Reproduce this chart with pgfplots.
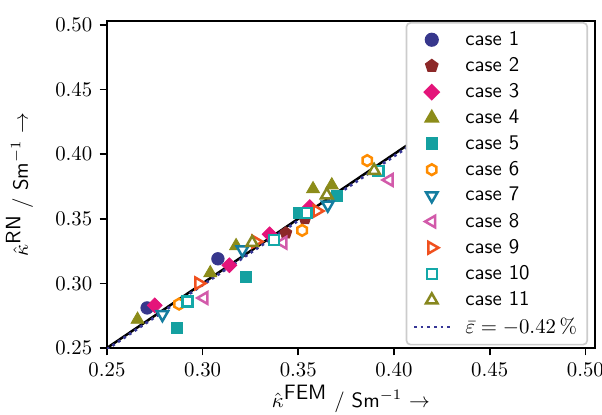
\documentclass[border=0pt]{standalone}
\usepackage{pgfplots}
\pgfplotsset{compat=1.18}
\usetikzlibrary{plotmarks}
\pgfdeclareplotmark{hexa}{%
 \pgfpathmoveto{\pgfqpointpolar{90}{\pgfplotmarksize}}%
 \pgfpathlineto{\pgfqpointpolar{150}{\pgfplotmarksize}}%
 \pgfpathlineto{\pgfqpointpolar{210}{\pgfplotmarksize}}%
 \pgfpathlineto{\pgfqpointpolar{270}{\pgfplotmarksize}}%
 \pgfpathlineto{\pgfqpointpolar{330}{\pgfplotmarksize}}%
 \pgfpathlineto{\pgfqpointpolar{30}{\pgfplotmarksize}}%
 \pgfpathclose
 \pgfusepathqfillstroke}
\definecolor{c1}{RGB}{55,55,140}
\definecolor{c2}{RGB}{140,40,40}
\definecolor{c3}{RGB}{228,20,122}
\definecolor{c4}{RGB}{140,140,25}
\definecolor{c5}{RGB}{20,160,160}
\definecolor{c6}{RGB}{255,140,0}
\definecolor{c7}{RGB}{20,125,160}
\definecolor{c8}{RGB}{210,90,170}
\definecolor{c9}{RGB}{240,80,30}
\definecolor{c10}{RGB}{20,168,168}
\definecolor{c11}{RGB}{135,135,30}
\definecolor{cl}{RGB}{55,55,150}
\begin{document}
\begin{tikzpicture}
\begin{axis}[
 width=234.6pt, height=157.2pt, scale only axis,
 xmin=0.25, xmax=0.505, ymin=0.25, ymax=0.503,
 xtick={0.25,0.30,0.35,0.40,0.45,0.50},
 ytick={0.25,0.30,0.35,0.40,0.45,0.50},
 ticklabel style={/pgf/number format/.cd,fixed,fixed zerofill,precision=2},
 tick align=outside, xtick pos=bottom, ytick pos=left,
 major tick length=3.5pt,
 axis line style={line width=0.8pt},
 every tick/.style={line width=0.8pt, black},
 xlabel={$\hat{\kappa}^{\textsf{FEM}}$ / \textsf{Sm}$^{-1}$ $\rightarrow$},
 ylabel={$\hat{\kappa}^{\textsf{RN}}$ / \textsf{Sm}$^{-1}$ $\rightarrow$},
 xlabel style={at={(axis description cs:0.5,-0.1807)}, anchor=base},
 ylabel style={at={(axis description cs:-0.162,0.5)}, anchor=base},
 legend cell align=left,
 legend style={at={(0.986,0.997)}, anchor=north east, draw=black!20, line width=0.8pt,
   rounded corners=2pt, font=\sffamily, row sep=0.3pt,
   /tikz/every odd column/.append style={column sep=5pt}},
]
\addplot[only marks, mark=*, mark size=3pt, color=c1] coordinates {(0.271,0.281)(0.308,0.319)};
\addlegendentry{case 1}
\addplot[only marks, mark=pentagon*, mark size=3pt, color=c2] coordinates {(0.3435,0.339)(0.3535,0.350)};
\addlegendentry{case 2}
\addplot[only marks, mark=square*, mark size=2.5pt, color=c3, mark options={rotate=45}] coordinates {(0.275,0.283)(0.314,0.314)(0.335,0.338)(0.356,0.359)};
\addlegendentry{case 3}
\addplot[only marks, mark=triangle*, mark size=3.6pt, color=c4] coordinates {(0.266,0.272)(0.304,0.308)(0.3175,0.329)(0.3577,0.373)(0.3675,0.376)};
\addlegendentry{case 4}
\addplot[only marks, mark=square*, mark size=2.6pt, color=c5] coordinates {(0.2866,0.2655)(0.3227,0.305)(0.3505,0.3545)(0.370,0.3676)};
\addlegendentry{case 5}
\addplot[only marks, mark=hexa, mark size=2.6pt, color=c6, mark options={fill=white, line width=1.2pt}] coordinates {(0.2877,0.284)(0.352,0.341)(0.386,0.395)};
\addlegendentry{case 6}
\addplot[only marks, mark=triangle*, mark size=3.2pt, color=c7, mark options={fill=white, line width=1.2pt, rotate=180}] coordinates {(0.279,0.276)(0.3208,0.326)(0.3654,0.3607)};
\addlegendentry{case 7}
\addplot[only marks, mark=triangle*, mark size=3.2pt, color=c8, mark options={fill=white, line width=1.2pt, rotate=90}] coordinates {(0.3007,0.2887)(0.342,0.3315)(0.3975,0.380)};
\addlegendentry{case 8}
\addplot[only marks, mark=triangle*, mark size=3.2pt, color=c9, mark options={fill=white, line width=1.2pt, rotate=-90}] coordinates {(0.298,0.300)(0.3278,0.3323)(0.3597,0.356)};
\addlegendentry{case 9}
\addplot[only marks, mark=square*, mark size=2.4pt, color=c10, mark options={fill=white, line width=1.2pt}] coordinates {(0.292,0.286)(0.3373,0.3336)(0.3544,0.3545)(0.392,0.387)};
\addlegendentry{case 10}
\addplot[only marks, mark=triangle*, mark size=3.2pt, color=c11, mark options={fill=white, line width=1.2pt}] coordinates {(0.3259,0.3315)(0.3649,0.3684)(0.3896,0.3872)};
\addlegendentry{case 11}
\addplot[black, line width=1.2pt, forget plot] coordinates {(0.25,0.25)(0.5,0.5)};
\addplot[cl, line width=1.3pt, dash pattern=on 1.3pt off 1.9pt] coordinates {(0.25,0.24895)(0.5,0.4979)};
\addlegendentry{$\bar{\varepsilon} = -0.42\,\%$}
\end{axis}
\pgfresetboundingbox
\path ([shift={(-51.4pt,-32.2pt)}]current axis.south west) rectangle ([shift={(3.4pt,10.1pt)}]current axis.north east);
\end{tikzpicture}
\end{document}
